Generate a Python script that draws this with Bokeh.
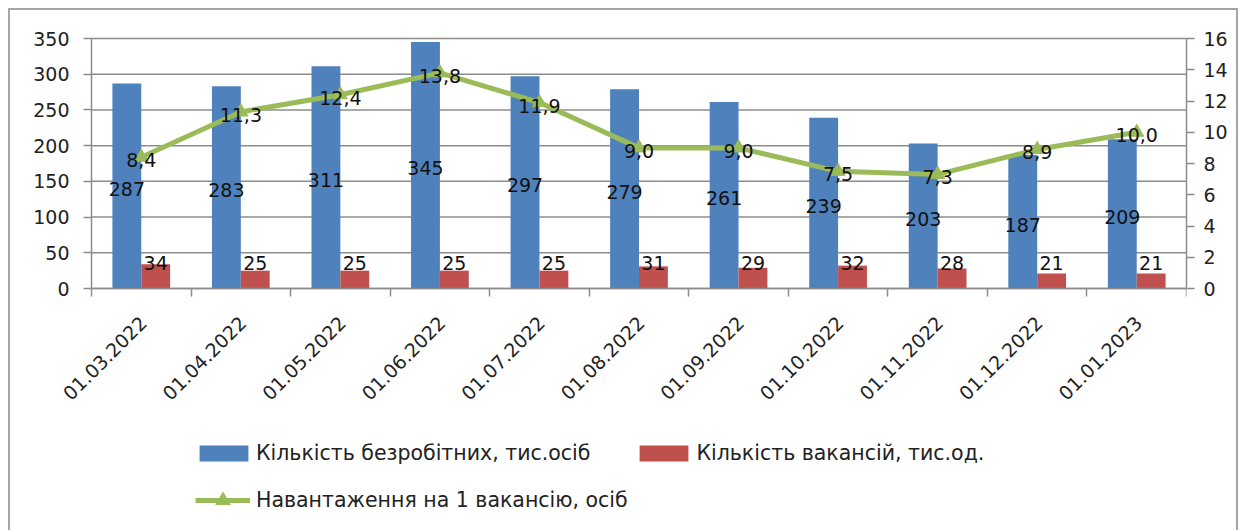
import numpy as np
from bokeh.plotting import figure
from bokeh.models import (ColumnDataSource, Range1d, LinearAxis, FixedTicker,
                          Legend, LegendItem)
from bokeh.core.properties import value
from bokeh.embed import file_html
from bokeh.resources import INLINE

# ---- data ----
dates = ["01.03.2022", "01.04.2022", "01.05.2022", "01.06.2022", "01.07.2022",
         "01.08.2022", "01.09.2022", "01.10.2022", "01.11.2022", "01.12.2022",
         "01.01.2023"]
unemployed = [287, 283, 311, 345, 297, 279, 261, 239, 203, 187, 209]
vacancies = [34, 25, 25, 25, 25, 31, 29, 32, 28, 21, 21]
load = [8.4, 11.3, 12.4, 13.8, 11.9, 9.0, 9.0, 7.5, 7.3, 8.9, 10.0]
left_ticks = [0, 50, 100, 150, 200, 250, 300, 350]
right_ticks = [0, 2, 4, 6, 8, 10, 12, 14, 16]
name_unemp = "Кількість безробітних, тис.осіб"
name_vac = "Кількість вакансій, тис.од."
name_load = "Навантаження на 1 вакансію, осіб"

BLUE = "#4F81BD"
RED = "#C0504D"
GREEN = "#9BBB59"
GRID = "#8c8c8c"
NUM_FONT = value("DejaVu Sans")
LEG_FONT = "DejaVu Sans"

LMAX, RMAX = 350, 16
# The frame covers the whole canvas around the value area so that the tick
# labels, the rotated date labels and the legend are not clipped.
AREA_H, TOP_PAD, BOTTOM_PAD = 250, 28, 242   # px
AREA_W, LEFT_PAD = 1095, 81                  # px

n = len(dates)
xc = [i + 0.5 for i in range(n)]
src = ColumnDataSource(dict(
    xb=[x - 0.145 for x in xc],
    xr=[x + 0.145 for x in xc],
    x=xc,
    unemp=unemployed,
    unemp_mid=[v / 2 for v in unemployed],
    unemp_lbl=[str(v) for v in unemployed],
    vac=vacancies,
    vac_lbl_y=[40] * n,
    vac_lbl=[str(v) for v in vacancies],
    load=load,
    load_lbl=[f"{v:.1f}".replace(".", ",") for v in load],
))

p = figure(width=1230, height=522, output_backend="svg", toolbar_location=None,
           x_range=Range1d(-LEFT_PAD * n / AREA_W, n),
           y_range=Range1d(-BOTTOM_PAD * LMAX / AREA_H,
                           LMAX + TOP_PAD * LMAX / AREA_H),
           min_border_left=0, min_border_right=54, min_border_top=0,
           min_border_bottom=2)
p.styles = {"margin": "8px 0 0 8px",
            "border-top": "2px solid #a6a6a6", "border-left": "2px solid #a6a6a6",
            "border-right": "2px solid #a6a6a6"}
p.outline_line_color = None
p.extra_y_ranges = {"r": Range1d(-BOTTOM_PAD * RMAX / AREA_H,
                                 RMAX + TOP_PAD * RMAX / AREA_H)}
p.xgrid.visible = False
p.ygrid.visible = False

# horizontal grid lines, limited to the value area
p.segment(x0=[0] * len(left_ticks), x1=[n] * len(left_ticks),
          y0=left_ticks, y1=left_ticks, line_color=GRID, line_width=1.5)

# x axis at value 0
xa = p.xaxis[0]
xa.fixed_location = 0
xa.bounds = (0, n)
xa.ticker = FixedTicker(ticks=[x + 0.02 for x in xc], minor_ticks=list(range(n + 1)))
xa.major_label_overrides = {x + 0.02: d for x, d in zip(xc, dates)}
xa.major_label_orientation = np.pi / 4
xa.major_tick_line_color = None
xa.minor_tick_in = 0
xa.minor_tick_out = 8
xa.minor_tick_line_color = GRID
xa.minor_tick_line_width = 1.5
xa.axis_line_color = GRID
xa.axis_line_width = 1.5
xa.major_label_text_font = "DejaVu Sans"
xa.major_label_text_font_size = "19px"
xa.major_label_text_color = "#222222"
xa.major_label_standoff = 23

ya = p.yaxis[0]
ya.fixed_location = 0
ya.ticker = FixedTicker(ticks=left_ticks)
ya.bounds = (0, LMAX)
ya.minor_tick_line_color = None
ya.major_tick_in = 0
ya.major_tick_out = 8
ya.major_tick_line_color = GRID
ya.major_tick_line_width = 1.5
ya.axis_line_color = GRID
ya.axis_line_width = 1.5
ya.major_label_text_font = "DejaVu Sans"
ya.major_label_text_font_size = "19px"
ya.major_label_text_color = "#222222"
ya.major_label_standoff = 14

ra = LinearAxis(y_range_name="r", ticker=FixedTicker(ticks=right_ticks),
                bounds=(0, RMAX))
ra.minor_tick_line_color = None
ra.major_tick_in = 0
ra.major_tick_out = 8
ra.major_tick_line_color = GRID
ra.major_tick_line_width = 1.5
ra.axis_line_color = GRID
ra.axis_line_width = 1.5
ra.major_label_text_font = "DejaVu Sans"
ra.major_label_text_font_size = "19px"
ra.major_label_text_color = "#222222"
ra.major_label_standoff = 9
p.add_layout(ra, "right")

# glyphs
rb = p.vbar(x="xb", top="unemp", width=0.29, source=src, fill_color=BLUE,
            line_color=None)
rr = p.vbar(x="xr", top="vac", width=0.29, source=src, fill_color=RED,
            line_color=None)
rl = p.line(x="x", y="load", source=src, y_range_name="r", line_color=GREEN,
            line_width=5)
rm = p.scatter(x="x", y="load", source=src, y_range_name="r", marker="triangle",
               size=14, fill_color=GREEN, line_color=GREEN)

lbl_kw = dict(text_font=NUM_FONT, text_font_size="19px", text_color="#111111",
              text_align="center", text_baseline="middle", y_offset=3)
p.text(x="xb", y="unemp_mid", text="unemp_lbl", source=src, **lbl_kw)
p.text(x="xr", y="vac_lbl_y", text="vac_lbl", source=src, **lbl_kw)
p.text(x="x", y="load", text="load_lbl", source=src, y_range_name="r", **lbl_kw)

# legends
leg_common = dict(border_line_color=None, background_fill_alpha=0, padding=0,
                  margin=0, label_text_font=LEG_FONT, label_text_font_size="20.5px",
                  label_text_color="#222222", label_height=16)
leg1 = Legend(items=[LegendItem(label=name_unemp, renderers=[rb]),
                     LegendItem(label=name_vac, renderers=[rr])],
              orientation="horizontal", location=(LEFT_PAD + 102, 65), spacing=43,
              glyph_width=61, glyph_height=20, label_standoff=2, **leg_common)
leg2 = Legend(items=[LegendItem(label=name_load, renderers=[rl, rm])],
              orientation="horizontal", location=(LEFT_PAD + 104, 12),
              glyph_width=55, glyph_height=36, label_standoff=6, **leg_common)
p.add_layout(leg1, "center")
p.add_layout(leg2, "center")

open("out.html", "w").write(file_html(p, INLINE))
